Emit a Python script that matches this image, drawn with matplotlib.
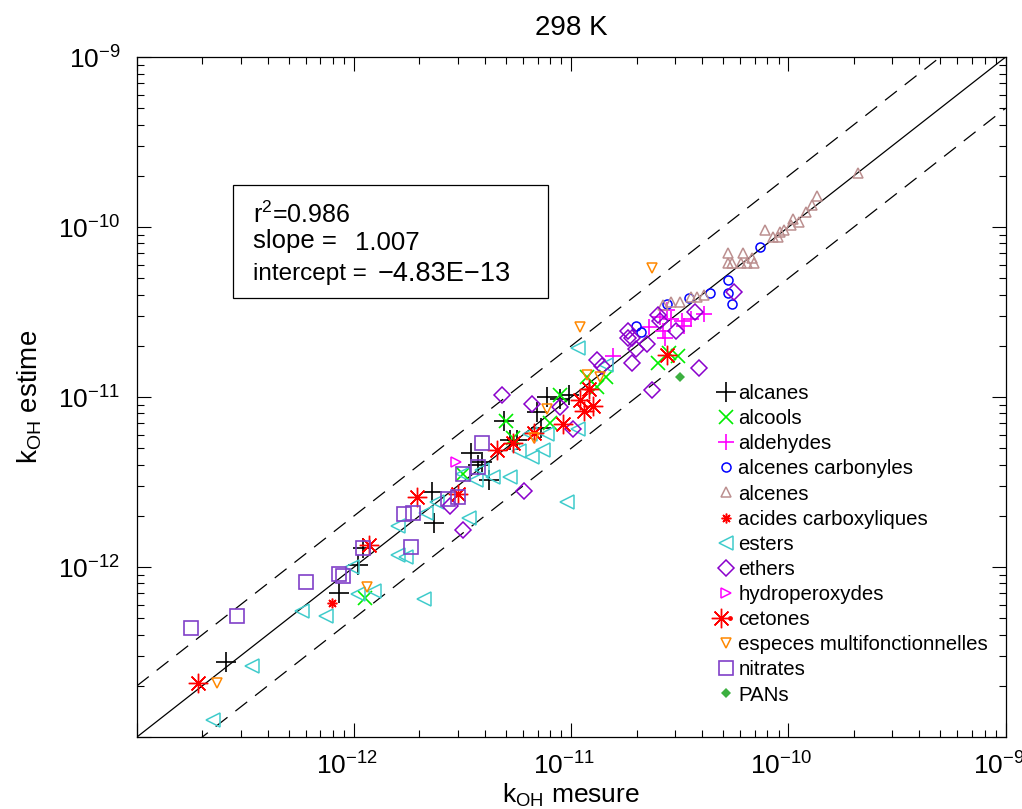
import numpy as np
import matplotlib
matplotlib.use('Agg')
import matplotlib.pyplot as plt
from matplotlib.patches import Rectangle
from matplotlib.legend_handler import HandlerTuple
from matplotlib.ticker import FuncFormatter
from matplotlib.transforms import ScaledTranslation

plt.rcParams['font.family'] = ['Liberation Sans', 'DejaVu Sans']
plt.rcParams['mathtext.fontset'] = 'custom'
plt.rcParams['mathtext.rm'] = 'Liberation Sans'
plt.rcParams['mathtext.it'] = 'Liberation Sans:italic'

# log10 of k (cm3 molecule-1 s-1): measured, estimated
alcanes_mes = [-12.59, -12.07, -11.98, -11.96, -11.64, -11.63, -11.46, -11.43, -11.38, -11.31,
               -11.28, -11.25, -11.16, -11.14, -11.11, -11.05, -11.01, -11.41]
alcanes_est = [-12.56, -12.15, -11.99, -11.89, -11.56, -11.74, -11.33, -11.40, -11.49, -11.14,
               -11.25, -11.25, -11.09, -11.18, -11.00, -11.01, -10.99, -11.38]

alcools_mes = [-11.95, -11.50, -11.30, -11.27, -11.10, -11.05, -10.93, -10.88, -10.84, -10.60, -10.55, -10.51]
alcools_est = [-12.18, -11.45, -11.14, -11.24, -11.15, -10.99, -10.88, -10.94, -10.88, -10.80, -10.74, -10.76]

aldehydes_mes = [-10.81, -10.64, -10.59, -10.58, -10.57, -10.56, -10.54, -10.49, -10.48, -10.45, -10.39]
aldehydes_est = [-10.76, -10.59, -10.53, -10.61, -10.65, -10.49, -10.54, -10.55, -10.58, -10.54, -10.51]

alc_carb_mes = [-10.70, -10.68, -10.56, -10.46, -10.36, -10.28, -10.28, -10.26, -10.13]
alc_carb_est = [-10.58, -10.62, -10.45, -10.42, -10.39, -10.31, -10.39, -10.45, -10.12]

alcenes_mes = [-10.58, -10.54, -10.50, -10.45, -10.42, -10.39, -10.28, -10.28, -10.26, -10.22,
               -10.21, -10.19, -10.17, -10.16, -10.11, -10.07, -10.05, -10.04, -10.02, -9.99,
               -9.98, -9.95, -9.92, -9.89, -9.87, -9.68]
alcenes_est = [-10.46, -10.44, -10.44, -10.41, -10.41, -10.40, -10.21, -10.15, -10.21, -10.21,
               -10.15, -10.21, -10.18, -10.21, -10.02, -10.06, -10.06, -10.03, -10.02, -9.99,
               -9.95, -9.97, -9.91, -9.87, -9.82, -9.68]

acides_mes = [-12.10, -10.92]
acides_est = [-12.21, -10.95]

esters_mes = [-12.65, -12.47, -12.24, -12.13, -12.01, -11.98, -11.91, -11.80, -11.80, -11.76,
              -11.68, -11.67, -11.62, -11.50, -11.47, -11.44, -11.41, -11.36, -11.28, -11.24,
              -11.19, -11.18, -11.13, -11.11, -11.02, -10.97, -10.97, -10.84]
esters_est = [-12.90, -12.58, -12.26, -12.29, -12.00, -12.16, -12.14, -11.76, -11.93, -11.94,
              -12.19, -11.68, -11.62, -11.45, -11.71, -11.49, -11.43, -11.47, -11.47, -11.32,
              -11.22, -11.35, -11.31, -11.22, -11.62, -10.71, -11.19, -10.81]

ethers_mes = [-11.56, -11.50, -11.32, -11.22, -11.18, -11.05, -10.99, -10.88, -10.86, -10.74,
              -10.74, -10.72, -10.72, -10.70, -10.65, -10.63, -10.60, -10.59, -10.52, -10.43,
              -10.41, -10.25]
ethers_est = [-11.64, -11.78, -10.99, -11.55, -11.04, -11.06, -11.19, -10.78, -10.82, -10.65,
              -10.61, -10.80, -10.65, -10.72, -10.69, -10.96, -10.52, -10.55, -10.61, -10.50,
              -10.83, -10.38]

hydroperox_mes = [-11.53]
hydroperox_est = [-11.38]

cetones_mes = [-12.72, -11.93, -11.71, -11.52, -11.34, -11.27, -11.17, -11.04, -10.96, -10.94, -10.92, -10.90, -10.56]
cetones_est = [-12.68, -11.87, -11.59, -11.57, -11.31, -11.27, -11.21, -11.16, -11.02, -11.08, -10.95, -11.05, -10.75]

multi_mes = [-12.63, -11.94, -11.17, -11.11, -10.96, -10.93, -10.87, -10.63]
multi_est = [-12.68, -12.12, -11.24, -11.07, -10.59, -10.87, -10.88, -10.24]

nitrates_mes = [-12.75, -12.54, -12.22, -12.07, -12.05, -11.96, -11.77, -11.74, -11.73, -11.57,
                -11.52, -11.50, -11.43, -11.41]
nitrates_est = [-12.36, -12.29, -12.09, -12.04, -12.05, -11.89, -11.69, -11.88, -11.68, -11.60,
                -11.59, -11.45, -11.41, -11.27]

pans_mes = [-10.50]
pans_est = [-10.88]

stat_names = [r'r$^2$=0.986', 'slope =', 'intercept =']
stat_values = ['', '1.007', '\u22124.83E\u221213']

fig = plt.figure(figsize=(10.22, 8.09), dpi=100)
ax = fig.add_axes([0.134, 0.089, 0.850, 0.8405])
ax.set_xscale('log')
ax.set_yscale('log')
ax.set_xlim(1e-13, 1e-9)
ax.set_ylim(1e-13, 1e-9)

# 1:1 line and factor-2 lines
xx = np.array([1e-13, 1e-9])
ax.plot(xx, xx, color='black', lw=0.9)
ax.plot(xx, 2 * xx, color='black', lw=0.9, dashes=(12, 8))
ax.plot(xx, 0.5 * xx, color='black', lw=0.9, dashes=(12, 8))


def pts(m, e):
    return 10.0 ** np.array(m), 10.0 ** np.array(e)


handles = []
labels = []

x, y = pts(alcanes_mes, alcanes_est)
h = ax.plot(x, y, ls='none', marker='+', ms=14, mew=1.2, color='black')[0]
handles.append(h); labels.append('alcanes')

x, y = pts(alcools_mes, alcools_est)
h = ax.plot(x, y, ls='none', marker='x', ms=10, mew=1.2, color='#00ee00')[0]
handles.append(h); labels.append('alcools')

x, y = pts(aldehydes_mes, aldehydes_est)
h = ax.plot(x, y, ls='none', marker='+', ms=12, mew=1.2, color='#ff00ff')[0]
handles.append(h); labels.append('aldehydes')

x, y = pts(alc_carb_mes, alc_carb_est)
h = ax.plot(x, y, ls='none', marker='o', ms=6.5, mew=1.1, mfc='none', color='#0000ff')[0]
handles.append(h); labels.append('alcenes carbonyles')

x, y = pts(alcenes_mes, alcenes_est)
h = ax.plot(x, y, ls='none', marker='^', ms=7.5, mew=1.1, mfc='none', color='#bc8f8f')[0]
handles.append(h); labels.append('alcenes')

x, y = pts(acides_mes, acides_est)
h = ax.plot(x, y, ls='none', marker=(8, 2, 0), ms=7, mew=1.1, color='#ff0000')[0]
handles.append(h); labels.append('acides carboxyliques')

x, y = pts(esters_mes, esters_est)
h = ax.plot(x, y, ls='none', marker='<', ms=9.5, mew=1.1, mfc='none', color='#40cccc')[0]
handles.append(h); labels.append('esters')

x, y = pts(ethers_mes, ethers_est)
h = ax.plot(x, y, ls='none', marker='D', ms=8, mew=1.1, mfc='none', color='#8a00cc')[0]
handles.append(h); labels.append('ethers')

x, y = pts(hydroperox_mes, hydroperox_est)
h = ax.plot(x, y, ls='none', marker='>', ms=7.5, mew=1.1, mfc='none', color='#ff00ff')[0]
handles.append(h); labels.append('hydroperoxydes')

x, y = pts(cetones_mes, cetones_est)
h1 = ax.plot(x, y, ls='none', marker=(8, 2, 0), ms=14, mew=1.0, color='#ff0000')[0]
h2 = ax.plot(x, y, ls='none', marker='o', ms=3.5, mew=0, color='#ff0000')[0]
handles.append((h1, h2)); labels.append('cetones')

x, y = pts(multi_mes, multi_est)
h = ax.plot(x, y, ls='none', marker='v', ms=7.5, mew=1.1, mfc='none', color='#ff8800')[0]
handles.append(h); labels.append('especes multifonctionnelles')

x, y = pts(nitrates_mes, nitrates_est)
h = ax.plot(x, y, ls='none', marker='s', ms=9.5, mew=1.2, mfc='none', color='#8040c8')[0]
handles.append(h); labels.append('nitrates')

x, y = pts(pans_mes, pans_est)
h = ax.plot(x, y, ls='none', marker='D', ms=5.5, mew=0, color='#3cb040')[0]
handles.append(h); labels.append('PANs')

ax.legend(handles, labels, loc='upper left', bbox_to_anchor=(0.667, 0.519),
          frameon=False, fontsize=14.7, handlelength=0.9, handletextpad=0.17,
          labelspacing=0.3, borderpad=0, borderaxespad=0,
          handler_map={tuple: HandlerTuple(ndivide=None, pad=0)})

# statistics box
ax.add_patch(Rectangle((0.110, 0.646), 0.363, 0.166, transform=ax.transAxes,
                       fill=False, lw=0.9, edgecolor='black', zorder=5))
ax.text(0.1335, 0.768, stat_names[0], transform=ax.transAxes, fontsize=18, va='center')
ax.text(0.1335, 0.730, stat_names[1], transform=ax.transAxes, fontsize=18.5, va='center')
ax.text(0.251, 0.726, stat_values[1], transform=ax.transAxes, fontsize=18.5, va='center')
ax.text(0.1335, 0.681, stat_names[2], transform=ax.transAxes, fontsize=17.5, va='center')
ax.text(0.277, 0.681, stat_values[2], transform=ax.transAxes, fontsize=19.5, va='center')


def fmt(v, pos):
    e = int(round(np.log10(v)))
    if e <= -13:
        return ''
    return r'$10^{%d}$' % e


ax.xaxis.set_major_formatter(FuncFormatter(fmt))
ax.yaxis.set_major_formatter(FuncFormatter(fmt))

ax.tick_params(which='both', direction='in', top=True, right=True, labelsize=19)
ax.tick_params(which='major', length=10, width=0.8)
ax.tick_params(axis='x', which='major', pad=11)
ax.tick_params(axis='y', which='major', pad=12)
ax.tick_params(which='minor', length=5, width=0.8)
for s in ax.spines.values():
    s.set_linewidth(0.9)

# labels sit a little left of their tick, as in the original
shift = ScaledTranslation(-7 / 100, 0, fig.dpi_scale_trans)
for lab in ax.get_xticklabels():
    lab.set_transform(lab.get_transform() + shift)

ax.set_xlabel(r'k$_{\rm OH}$ mesure', fontsize=19, labelpad=2)
ax.set_ylabel(r'k$_{\rm OH}$ estime', fontsize=20, labelpad=10)
ax.set_title('298 K', fontsize=20, pad=16)

fig.savefig('out.png', dpi=100)
